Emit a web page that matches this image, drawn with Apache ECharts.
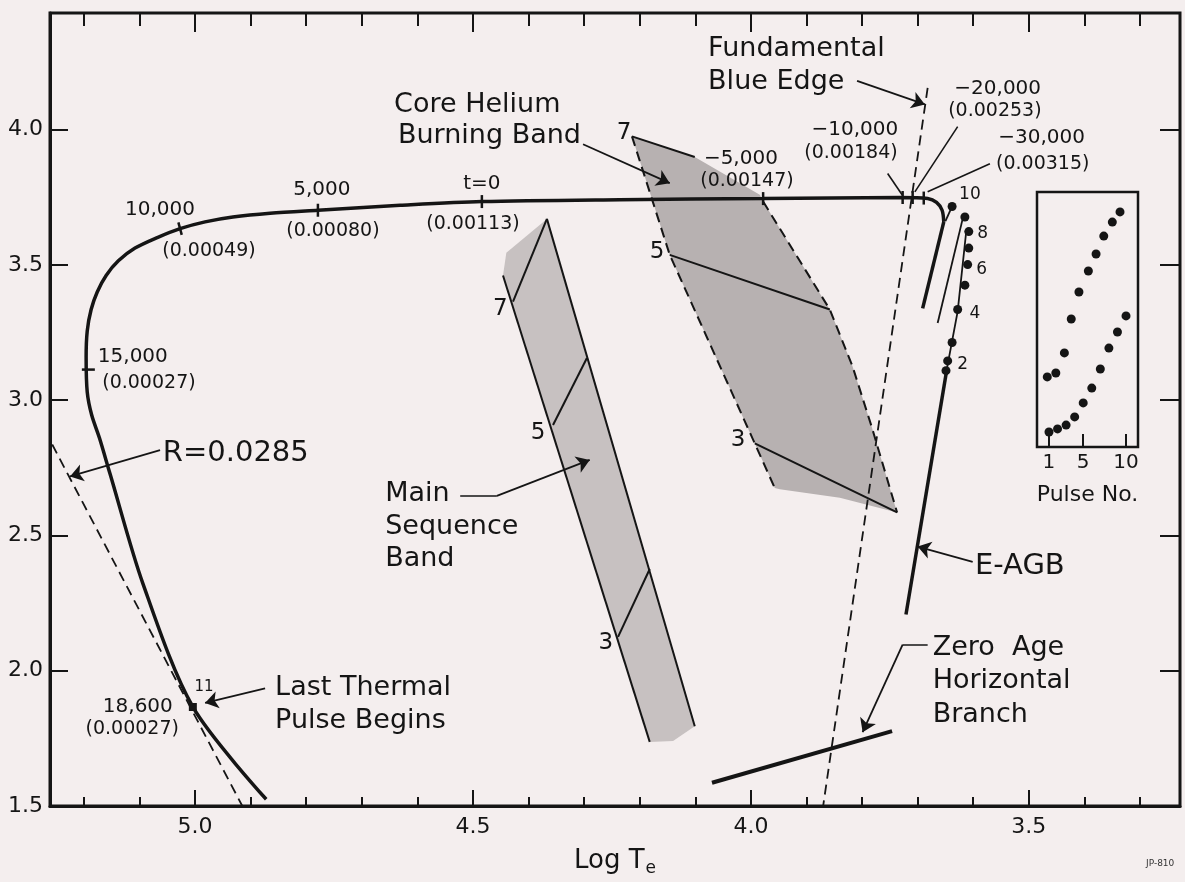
<!DOCTYPE html>
<html><head><meta charset="utf-8">
<script src="https://cdn.jsdelivr.net/npm/echarts@6/dist/echarts.min.js"></script>
<style>html,body{margin:0;padding:0;background:#f4eeee;}#c{width:1185px;height:882px;}</style>
</head><body><div id="c"></div>
<script>
// ---------- axes ----------
const xMajorTicks = [5.0, 4.5, 4.0, 3.5];
const xMinorTicks = [5.2, 5.1, 4.9, 4.8, 4.7, 4.6, 4.4, 4.3, 4.2, 4.1, 3.9, 3.8, 3.7, 3.6, 3.4, 3.3];
const yTicks = [1.5, 2.0, 2.5, 3.0, 3.5, 4.0];
const yRightTicks = [2.0, 2.5, 3.0, 3.5, 4.0];
const insetTicks = [1, 5, 10];

// ---------- evolutionary track (log Te, log L) ----------
const trackCurve = [[4.872,1.525],[5.004,1.866],[5.094,2.323],[5.153,2.728],[5.172,2.860],[5.186,2.945],[5.194,3.030],[5.196,3.159],[5.194,3.256],[5.187,3.335],[5.176,3.400],[5.160,3.461],[5.138,3.515],[5.108,3.562],[5.068,3.601],[5.027,3.634],[4.982,3.659],[4.932,3.677],[4.865,3.691],[4.779,3.702],[4.631,3.720],[4.484,3.734],[4.236,3.741],[3.978,3.745],[3.732,3.749],[3.682,3.745],[3.666,3.731],[3.656,3.702],[3.653,3.659]];
const trackDrop = [[3.653,3.659],[3.691,3.339]];
const radiusLine = [[5.257,2.836],[4.915,1.5]];
const blueEdge = [[3.682,4.154],[3.870,1.5]];
const zahbLine = [[4.070,1.586],[3.746,1.777]];
const eagbThick = [[3.721,2.208],[3.647,3.120]];
const eagbThin = [[3.647,3.120],[3.628,3.328],[3.613,3.616]];
const loopThin = [[3.619,3.670],[3.664,3.285]];
const loopLink = [[3.638,3.716],[3.650,3.662]];

// thermal pulse points on track
const pulseTe = [3.649,3.646,3.638,3.628,3.615,3.610,3.608,3.608,3.615,3.638];
const pulseLogL = [3.109,3.145,3.213,3.335,3.425,3.501,3.562,3.623,3.677,3.716];
const pulseTags = ['2','4','6','8','10'];
const pulseTagAt = [[3.619,3.131],[3.597,3.321],[3.585,3.483],[3.583,3.616],[3.606,3.759]];
const lastPulse = [5.004,1.866];

// time marks along the track
const ageTicks = [[5.192,3.113],[5.027,3.634],[4.779,3.702],[4.484,3.734],[3.978,3.745],[3.727,3.749],[3.709,3.749],[3.689,3.747]];
const ageTickAngle = [90, 15, 0, 0, 0, 0, 0, 0];
const ageLabels = ['15,000','10,000','5,000','t=0','\u22125,000','\u221210,000','\u221220,000','\u221230,000','18,600'];
const ageLabelAt = [[5.112,3.159],[5.063,3.705],[4.772,3.777],[4.484,3.799],[4.018,3.892],[3.813,4.000],[3.556,4.151],[3.477,3.968],[5.103,1.866]];
const massLabels = ['(0.00027)','(0.00049)','(0.00080)','(0.00113)','(0.00147)','(0.00184)','(0.00253)','(0.00315)','(0.00027)'];
const massLabelAt = [[5.083,3.063],[4.975,3.551],[4.752,3.626],[4.500,3.652],[4.007,3.810],[3.820,3.914],[3.561,4.068],[3.475,3.874],[5.113,1.784]];

// ---------- core helium burning band ----------
const heBand = [[4.214,3.975],[4.101,3.899],[3.984,3.759],[3.978,3.734],[3.858,3.335],[3.817,3.124],[3.782,2.897],[3.737,2.585],[3.840,2.639],[3.948,2.671],[3.957,2.675],[3.993,2.840],[4.146,3.537]];
const heTop = [[4.214,3.975],[4.101,3.899]];
const heMass5 = [[4.146,3.537],[3.858,3.335]];
const heMass3 = [[3.993,2.840],[3.737,2.585]];
const heLeftEdge = [[4.214,3.975],[4.146,3.537],[3.993,2.840],[3.957,2.675]];
const heRightEdge = [[3.978,3.734],[3.858,3.335],[3.817,3.124],[3.782,2.897],[3.737,2.585]];
const heMassTags = ['7','5','3'];
const heMassTagAt = [[4.228,3.989],[4.169,3.547],[4.023,2.851]];

// ---------- main sequence band ----------
const msBand = [[4.446,3.461],[4.440,3.545],[4.367,3.670],[4.101,1.795],[4.140,1.740],[4.182,1.737]];
const msLeft = [[4.446,3.461],[4.182,1.737]];
const msRight = [[4.367,3.670],[4.101,1.795]];
const msMass7 = [[4.428,3.364],[4.367,3.670]];
const msMass5 = [[4.356,2.908],[4.295,3.156]];
const msMass3 = [[4.239,2.125],[4.182,2.376]];
const msMassTags = ['7','5','3'];
const msMassTagAt = [[4.451,3.335],[4.383,2.879],[4.261,2.103]];

// ---------- annotations ----------
const noteLines = ['Core Helium','Burning Band','Fundamental','Blue Edge','Main','Sequence','Band','Last Thermal','Pulse Begins','Zero  Age','Horizontal','Branch'];
const noteAt = [[4.642,4.090],[4.635,3.975],[4.077,4.298],[4.077,4.176],[4.658,2.653],[4.658,2.531],[4.658,2.412],[4.856,1.938],[4.856,1.816],[3.673,2.085],[3.673,1.963],[3.673,1.838]];
const bigNotes = ['R=0.0285','E-AGB'];
const bigNoteAt = [[5.058,2.804],[3.597,2.384]];
const leaders = [
  [[3.754,3.838],[3.728,3.759]],
  [[3.628,4.011],[3.705,3.770]],
  [[3.570,3.874],[3.682,3.770]],
  [[4.523,2.646],[4.457,2.646]],
  [[3.682,2.096],[3.727,2.096]]
];
const arrows = [
  [[4.302,3.946],[4.146,3.802]],
  [[3.809,4.180],[3.687,4.093]],
  [[4.457,2.646],[4.290,2.779]],
  [[5.063,2.815],[5.225,2.718]],
  [[4.874,1.935],[4.982,1.881]],
  [[3.601,2.402],[3.700,2.459]],
  [[3.727,2.096],[3.799,1.773]]
];

// ---------- inset: pulse number ----------
const insetUpperX = [0.8,1.8,2.8,3.6,4.5,5.6,6.5,7.4,8.4,9.3];
const insetUpperY = [27.5,29.0,36.9,50.2,60.8,69.0,75.7,82.7,88.2,92.2];
const insetLowerX = [1,2,3,4,5,6,7,8,9,10];
const insetLowerY = [5.9,7.1,8.6,11.8,17.3,23.1,30.6,38.8,45.1,51.4];

// ================= build =================
const FONT = 'DejaVu Sans';
const INK = '#151515';
const zip = (a, b) => a.map((v, i) => [v, b[i]]);

function lineS(data, width, dashed, smooth) {
  return {type:'line', data, showSymbol:false, symbol:'none', smooth: smooth || false, silent:true, z:3,
    lineStyle:{color:INK, width, type: dashed ? [10,6] : 'solid', cap:'butt'}};
}
function polyS(points, fill) {
  return {type:'custom', silent:true, z:1, data:[points[0]], clip:true,
    renderItem:(p, api) => ({type:'polygon', shape:{points: points.map(q => api.coord(q))}, style:{fill}})};
}
function textS(texts, at, size, align) {
  return {type:'scatter', silent:true, z:6, symbolSize:1, itemStyle:{color:'rgba(0,0,0,0)', opacity:1},
    data: texts.map((t, i) => ({name:t, value:at[i]})),
    label:{show:true, position:'inside', formatter:p => p.name, align: align, verticalAlign:'middle',
      fontSize:size, fontFamily:FONT, color:INK, opacity:1}};
}
const dotStyle = {color:INK, opacity:1};

const series = [
  polyS(msBand, '#c7c1c1'),
  polyS(heBand, '#b7b1b1'),
  lineS(msLeft, 2), lineS(msRight, 2), lineS(msMass7, 2), lineS(msMass5, 2), lineS(msMass3, 2),
  lineS(heTop, 2), lineS(heMass5, 2), lineS(heMass3, 2),
  lineS(heLeftEdge, 2, true), lineS(heRightEdge, 2, true),
  lineS(radiusLine, 1.8, true), lineS(blueEdge, 1.8, true),
  lineS(trackCurve, 3.5, false, 0.3), lineS(trackDrop, 3.5),
  lineS(zahbLine, 4), lineS(eagbThick, 3.5), lineS(eagbThin, 1.8),
  lineS(loopThin, 1.8), lineS(loopLink, 1.8),
  {type:'lines', coordinateSystem:'cartesian2d', silent:true, z:4, symbol:['none','none'],
   lineStyle:{color:INK, width:1.6, opacity:1}, data: leaders.map(c => ({coords:c}))},
  {type:'lines', coordinateSystem:'cartesian2d', silent:true, z:4, symbol:['none','arrow'], symbolSize:[1,13],
   lineStyle:{color:INK, width:1.8, opacity:1}, itemStyle:{color:INK}, data: arrows.map(c => ({coords:c}))},
  {type:'scatter', silent:true, z:5, symbol:'rect', itemStyle:dotStyle,
   data: ageTicks.map((v, i) => ({value:v, symbolSize:[2.5,13], symbolRotate: ageTickAngle[i]}))},
  {type:'scatter', silent:true, z:5, symbol:'circle', symbolSize:9, itemStyle:dotStyle, data: zip(pulseTe, pulseLogL)},
  {type:'scatter', silent:true, z:5, symbol:'rect', symbolSize:8, itemStyle:dotStyle, data:[lastPulse]},
  textS(ageLabels, ageLabelAt, 20, 'center'),
  textS(massLabels, massLabelAt, 19, 'center'),
  textS(heMassTags, heMassTagAt, 23, 'center'),
  textS(msMassTags, msMassTagAt, 23, 'center'),
  textS(pulseTags, pulseTagAt, 17, 'center'),
  textS(['11'], [[4.984,1.938]], 15, 'center'),
  textS(noteLines, noteAt, 27, 'left'),
  textS(bigNotes, bigNoteAt, 29, 'left'),
  {type:'scatter', xAxisIndex:4, yAxisIndex:2, silent:true, symbolSize:9, itemStyle:dotStyle, data: zip(insetUpperX, insetUpperY)},
  {type:'scatter', xAxisIndex:4, yAxisIndex:2, silent:true, symbolSize:9, itemStyle:dotStyle, data: zip(insetLowerX, insetLowerY)}
];

const axisFont = {fontSize:22, fontFamily:FONT, color:INK};
const X = {type:'value', gridIndex:0, min:3.228, max:5.261, inverse:true, splitLine:{show:false}};
const option = {
  animation:false,
  backgroundColor:'#f4eeee',
  textStyle:{fontFamily:FONT},
  grid:[
    {left:50, top:13, width:1130, height:816, show:true, borderColor:INK, borderWidth:3, backgroundColor:'transparent'},
    {left:1037, top:192, width:101, height:255, show:true, borderColor:INK, borderWidth:2.5, backgroundColor:'transparent'}
  ],
  xAxis:[
    Object.assign({}, X, {position:'bottom',
      axisLine:{show:true, onZero:false, lineStyle:{color:INK, width:3}},
      axisTick:{show:true, inside:true, length:16, customValues:xMajorTicks, lineStyle:{color:INK, width:2}},
      axisLabel:Object.assign({show:true, margin:10, customValues:xMajorTicks, formatter:v => v.toFixed(1)}, axisFont),
      name:'{a|Log T}{b|e}', nameLocation:'middle', nameGap:40,
      nameTextStyle:{rich:{a:{fontSize:26, fontFamily:FONT, color:INK}, b:{fontSize:17, fontFamily:FONT, color:INK, padding:[14,0,0,1]}}}}),
    Object.assign({}, X, {position:'bottom', axisLine:{show:false},
      axisTick:{show:true, inside:true, length:9, customValues:xMinorTicks, lineStyle:{color:INK, width:2}},
      axisLabel:{show:false}}),
    Object.assign({}, X, {position:'top', axisLine:{show:false},
      axisTick:{show:true, inside:true, length:19, customValues:xMajorTicks, lineStyle:{color:INK, width:2}},
      axisLabel:{show:false}}),
    Object.assign({}, X, {position:'top', axisLine:{show:false},
      axisTick:{show:true, inside:true, length:13, customValues:xMinorTicks, lineStyle:{color:INK, width:2}},
      axisLabel:{show:false}}),
    {type:'value', gridIndex:1, min:-0.4, max:11.4, position:'bottom', splitLine:{show:false},
      axisLine:{show:false},
      axisTick:{show:true, inside:true, length:13, customValues:insetTicks, lineStyle:{color:INK, width:2}},
      axisLabel:{show:true, margin:6, customValues:insetTicks, fontSize:20, fontFamily:FONT, color:INK},
      name:'Pulse No.', nameLocation:'middle', nameGap:37, nameTextStyle:{fontSize:22, fontFamily:FONT, color:INK}}
  ],
  yAxis:[
    {type:'value', gridIndex:0, min:1.5, max:4.431, position:'left', splitLine:{show:false},
      axisLine:{show:true, onZero:false, lineStyle:{color:INK, width:3}},
      axisTick:{show:true, inside:true, length:18, customValues:yTicks, lineStyle:{color:INK, width:2}},
      axisLabel:Object.assign({show:true, margin:7, customValues:yTicks, formatter:v => v.toFixed(1)}, axisFont)},
    {type:'value', gridIndex:0, min:1.5, max:4.431, position:'right', splitLine:{show:false},
      axisLine:{show:false},
      axisTick:{show:true, inside:true, length:20, customValues:yRightTicks, lineStyle:{color:INK, width:2}},
      axisLabel:{show:false}},
    {type:'value', gridIndex:1, min:0, max:100, show:false}
  ],
  graphic:[{type:'text', left:1146, top:859, style:{text:'JP-810', fontSize:9, fontFamily:FONT, fill:'#333'}}],
  series
};
const chart = echarts.init(document.getElementById('c'), null, {renderer:'canvas'});
chart.setOption(option);
</script></body></html>
